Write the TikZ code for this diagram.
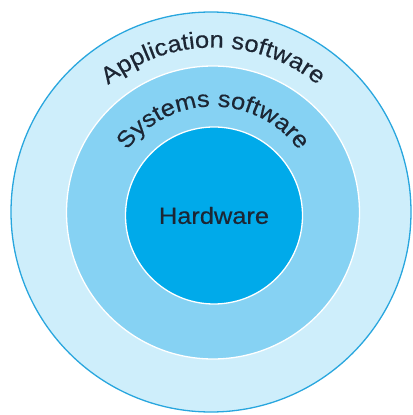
\documentclass[tikz,border=0pt]{standalone}
\usepackage{fontspec}
\setmainfont{Liberation Sans}
\newfontfamily\widesans[FakeStretch=1.09,FakeBold=0.4]{Liberation Sans}
\usetikzlibrary{decorations.text}
\definecolor{ringout}{RGB}{206,238,251}
\definecolor{ringmid}{RGB}{134,210,243}
\definecolor{core}{RGB}{0,170,234}
\definecolor{rimblue}{RGB}{40,166,222}
\definecolor{ink}{RGB}{28,38,52}
\newcommand{\ringfont}{\widesans\fontsize{23.3bp}{27bp}\selectfont}
\begin{document}
\begin{tikzpicture}[x=1bp,y=1bp,
  disc/.style={circle, inner sep=0pt, line width=1.3bp},
  lbl/.style={font=\ringfont, text=ink},
  arclabel/.style={decorate, decoration={text along path, text align=center,
      text color=ink, text={|\ringfont|#1}}}]
\useasboundingbox (0,0) rectangle (413,415);
% three nested layers
\node[disc, fill=ringout, draw=rimblue, minimum size=400bp] (outer) at (211,203) {};
\node[disc, fill=ringmid, draw=white, minimum size=293bp] (middle) at (213,202.5) {};
\node[disc, fill=core, draw=white, minimum size=177bp, lbl] (inner) at (214,199.5) {Hardware};
% curved labels on the rings
\path[arclabel={Application software}] (middle.center) ++(180:165) arc[start angle=180, end angle=0, radius=165];
\path[arclabel={Systems software}] (middle.center) ++(180:106) arc[start angle=180, end angle=0, radius=106];
\end{tikzpicture}
\end{document}
